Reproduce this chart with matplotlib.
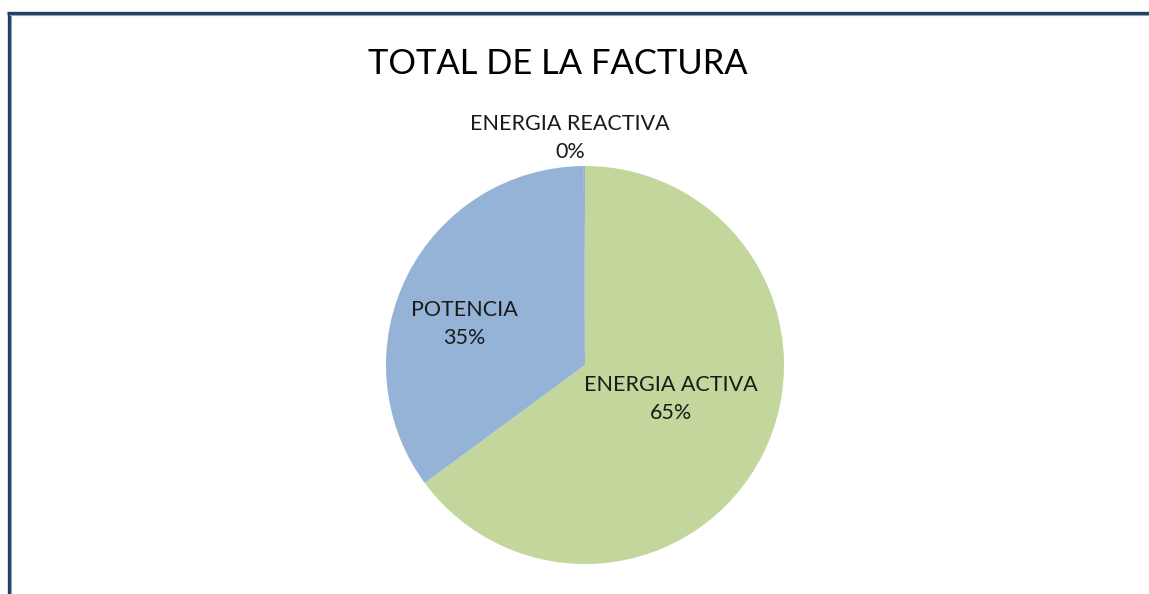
import matplotlib.pyplot as plt
from matplotlib.lines import Line2D

# Data
categories = ["ENERGIA ACTIVA", "POTENCIA", "ENERGIA REACTIVA"]
values = [64.9, 35.0, 0.1]
colors = ["#C3D69B", "#95B3D7", "#95B3D7"]

plt.rcParams["font.family"] = ["Lato", "DejaVu Sans"]

W, H = 1149, 594
fig = plt.figure(figsize=(W / 100, H / 100), dpi=100)
fig.patch.set_facecolor("white")

# pie axes: center (585, 365) px, radius 199 px
cx, cy, r = 585, 365, 199
ax = fig.add_axes([(cx - r) / W, (H - cy - r) / H, 2 * r / W, 2 * r / H])
ax.pie(values, colors=colors, startangle=90, counterclock=False,
       wedgeprops=dict(linewidth=0))
ax.set_xlim(-1, 1)
ax.set_ylim(-1, 1)
ax.set_aspect("equal")
ax.axis("off")


def px2data(px, py):
    return (px - cx) / r, (cy - py) / r


# data labels (positions in px of label centre)
label_pos = {
    "ENERGIA ACTIVA": (671, 399),
    "POTENCIA": (464, 324),
    "ENERGIA REACTIVA": (570, 138),
}
total = sum(values)
for cat, val in zip(categories, values):
    x, y = px2data(*label_pos[cat])
    ax.text(x, y, f"{cat}\n{val / total * 100:.0f}%", ha="center", va="center",
            fontsize=15.5, color="#1a1a1a", linespacing=1.55, clip_on=False)

fig.text(558 / W, 1 - 64 / H, "TOTAL DE LA FACTURA", ha="center", va="center",
         fontsize=24.8, color="#000000")

# chart frame (top and left edges visible)
fig.add_artist(Line2D([8.5 / W, 8.5 / W], [0, 1 - 13 / H], transform=fig.transFigure,
                      color="#243F60", linewidth=2.4, solid_capstyle="butt"))
fig.add_artist(Line2D([10.5 / W, 10.5 / W], [0, 1 - 15 / H], transform=fig.transFigure,
                      color="#8EA3BF", linewidth=0.8))
fig.add_artist(Line2D([7 / W, 1], [1 - 13 / H, 1 - 13 / H], transform=fig.transFigure,
                      color="#243F60", linewidth=2.4, solid_capstyle="butt"))
fig.add_artist(Line2D([10 / W, 1], [1 - 15 / H, 1 - 15 / H], transform=fig.transFigure,
                      color="#8EA3BF", linewidth=0.8))

fig.savefig("out.png", dpi=100)
